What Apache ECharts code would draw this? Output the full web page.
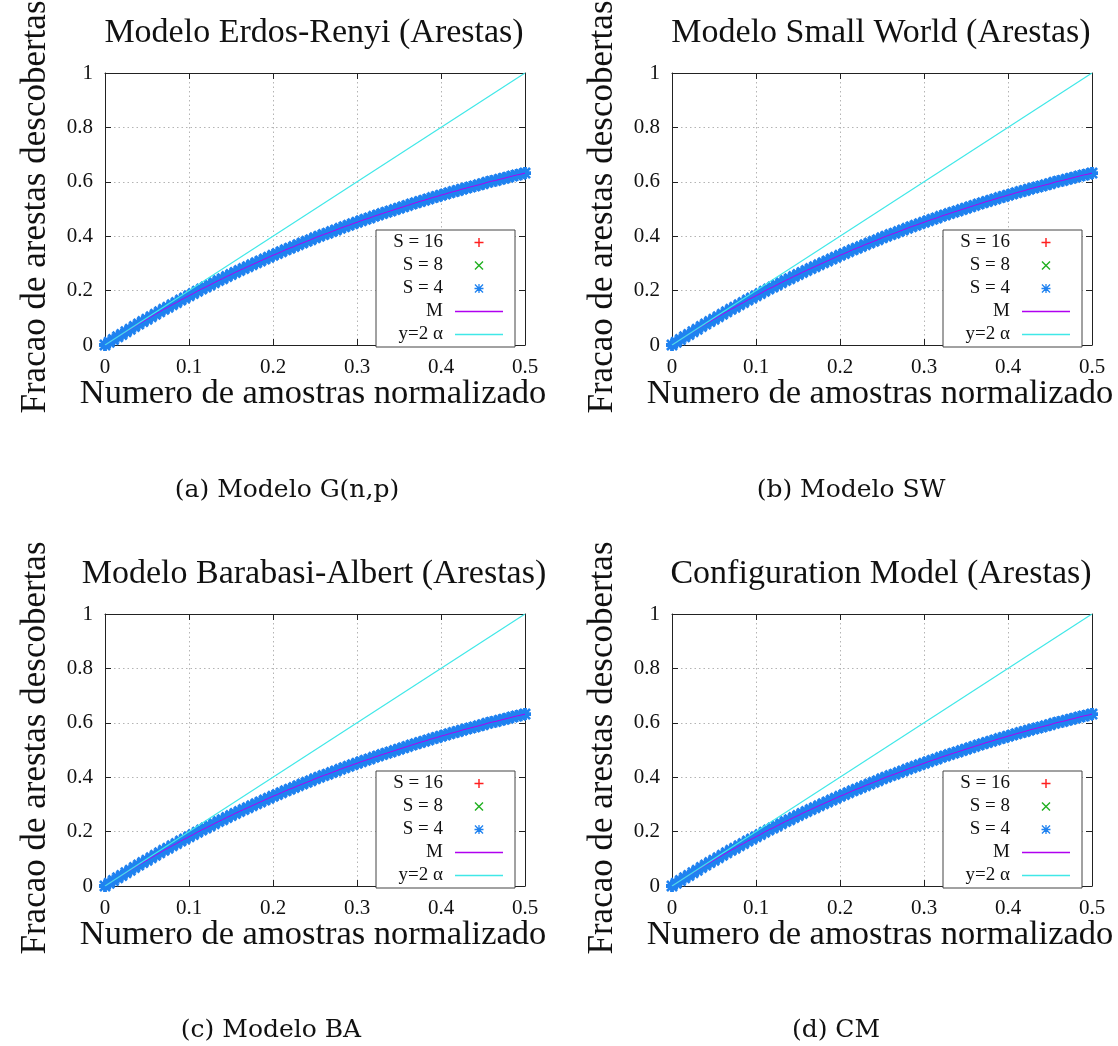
<!DOCTYPE html>
<html>
<head>
<meta charset="utf-8">
<script src="https://cdn.jsdelivr.net/npm/echarts@6/dist/echarts.min.js"></script>
<style>html,body{margin:0;padding:0;background:#fff}#main{width:1118px;height:1046px}</style>
</head>
<body>
<div id="main"></div>
<script>
// ---- data ----
const panelTitles = ['Modelo Erdos-Renyi (Arestas)', 'Modelo Small World (Arestas)', 'Modelo Barabasi-Albert (Arestas)', 'Configuration Model (Arestas)'];
const panelCaptions = ['(a) Modelo G(n,p)', '(b) Modelo SW', '(c) Modelo BA', '(d) CM'];
const seriesNames = ['S = 16', 'S = 8', 'S = 4', 'M', 'y=2 \u03b1'];
const xAxisTitle = 'Numero de amostras normalizado';
const yAxisTitle = 'Fracao de arestas descobertas';
const xTicks = [0, 0.1, 0.2, 0.3, 0.4, 0.5];
const yTicks = [0, 0.2, 0.4, 0.6, 0.8, 1];

// normalized number of samples (alpha)
const alpha = [0,0.005,0.01,0.015,0.02,0.025,0.03,0.035,0.04,0.045,0.05,0.055,0.06,0.065,0.07,0.075,0.08,0.085,0.09,0.095,
0.1,0.105,0.11,0.115,0.12,0.125,0.13,0.135,0.14,0.145,0.15,0.155,0.16,0.165,0.17,0.175,0.18,0.185,0.19,0.195,
0.2,0.205,0.21,0.215,0.22,0.225,0.23,0.235,0.24,0.245,0.25,0.255,0.26,0.265,0.27,0.275,0.28,0.285,0.29,0.295,
0.3,0.305,0.31,0.315,0.32,0.325,0.33,0.335,0.34,0.345,0.35,0.355,0.36,0.365,0.37,0.375,0.38,0.385,0.39,0.395,
0.4,0.405,0.41,0.415,0.42,0.425,0.43,0.435,0.44,0.445,0.45,0.455,0.46,0.465,0.47,0.475,0.48,0.485,0.49,0.495,0.5];
// fraction of discovered edges (all S series and M overlap in the picture)
const fracS16 = [0,0.010,0.020,0.030,0.039,0.049,0.058,0.068,0.077,0.086,0.095,0.104,0.113,0.122,0.131,0.139,0.148,0.156,0.165,0.173,
0.181,0.189,0.198,0.206,0.213,0.221,0.229,0.237,0.244,0.252,0.259,0.267,0.274,0.281,0.288,0.295,0.302,0.309,0.316,0.323,
0.330,0.336,0.343,0.350,0.356,0.362,0.369,0.375,0.381,0.387,0.394,0.400,0.406,0.411,0.417,0.423,0.429,0.435,0.440,0.446,
0.451,0.457,0.462,0.467,0.473,0.478,0.483,0.488,0.493,0.498,0.503,0.508,0.513,0.518,0.523,0.528,0.532,0.537,0.542,0.546,
0.551,0.555,0.560,0.564,0.568,0.573,0.577,0.581,0.585,0.589,0.593,0.598,0.602,0.605,0.609,0.613,0.617,0.621,0.625,0.628,0.632];
const fracS8 = fracS16;
const fracS4 = fracS16;
const fracM = fracS16;
// reference line y = 2 alpha
const refX = [0, 0.5];
const refY = [0, 1];

// ---- styling / layout ----
const FONT = '"Liberation Serif", "Times New Roman", serif';
const CAPFONT = '"DejaVu Serif", "Liberation Serif", serif';
const PLUS = 'path://M4.2,0H5.8V4.2H10V5.8H5.8V10H4.2V5.8H0V4.2H4.2Z';
const CROSS = 'path://M0,1.1L1.1,0L10,8.9L8.9,10ZM8.9,0L10,1.1L1.1,10L0,8.9Z';
const STAR = 'path://M4.3,0H5.7V4.3H10V5.7H5.7V10H4.3V5.7H0V4.3H4.3ZM0,1L1,0L10,9L9,10ZM9,0L10,1L1,10L0,9Z';
const STAR_BOLD = 'path://M3.4,0H6.6V3.4H10V6.6H6.6V10H3.4V6.6H0V3.4H3.4ZM0,1.6L1.6,0L10,8.4L8.4,10ZM8.4,0L10,1.6L1.6,10L0,8.4Z';
const LINEICON = 'path://M0,0H48V1.3H0Z';
const COLORS = ['#ff2020', '#20b020', '#1f82f0', '#b000f0', '#40e8e8'];

const layouts = [
  {left: 105, top: 73}, {left: 672, top: 73},
  {left: 105, top: 614}, {left: 672, top: 614}
];
const GW = 420, GH = 272;

const zip = (xs, ys) => xs.map((x, i) => [x, ys[i]]);

const grid = [], xAxis = [], yAxis = [], series = [], legend = [], graphic = [];
layouts.forEach((L, p) => {
  grid.push({left: L.left, top: L.top, width: GW, height: GH, containLabel: false});
  const tick = {show: true, inside: true, length: 6, lineStyle: {color: '#222'}};
  const axLine = {show: true, onZero: false, lineStyle: {color: '#222', width: 1}};
  const split = {show: true, lineStyle: {color: '#b4b4b4', type: [1.5, 3], width: 1}};
  const lbl = {color: '#111', fontFamily: FONT, fontSize: 21, margin: 12, formatter: v => String(+v.toFixed(2))};
  xAxis.push({type: 'value', gridIndex: p, min: xTicks[0], max: xTicks[xTicks.length - 1], interval: 0.1,
    position: 'bottom', axisLine: axLine, axisTick: tick, splitLine: split, axisLabel: lbl});
  xAxis.push({type: 'value', gridIndex: p, min: xTicks[0], max: xTicks[xTicks.length - 1], interval: 0.1,
    position: 'top', axisLine: axLine, axisTick: tick, splitLine: {show: false}, axisLabel: {show: false}});
  yAxis.push({type: 'value', gridIndex: p, min: yTicks[0], max: yTicks[yTicks.length - 1], interval: 0.2,
    position: 'left', axisLine: axLine, axisTick: tick, splitLine: split, axisLabel: lbl});
  yAxis.push({type: 'value', gridIndex: p, min: yTicks[0], max: yTicks[yTicks.length - 1], interval: 0.2,
    position: 'right', axisLine: axLine, axisTick: tick, splitLine: {show: false}, axisLabel: {show: false}});
  const xi = 2 * p, yi = 2 * p;
  const scat = (name, data, sym, color, size) => ({
    name, type: 'scatter', xAxisIndex: xi, yAxisIndex: yi, data: zip(alpha, data),
    symbol: sym, symbolSize: size, clip: false, itemStyle: {color, opacity: 1}, silent: true, z: 2
  });
  series.push(scat(seriesNames[0], fracS16, PLUS, COLORS[0], 8));
  series.push(scat(seriesNames[1], fracS8, CROSS, COLORS[1], 8));
  series.push(scat(seriesNames[2], fracS4, STAR_BOLD, COLORS[2], 12));
  series.push({name: seriesNames[3], type: 'line', xAxisIndex: xi, yAxisIndex: yi, data: zip(alpha, fracM),
    symbol: 'none', lineStyle: {color: COLORS[3], width: 1}, itemStyle: {color: COLORS[3]}, z: 3, silent: true});
  series.push({name: seriesNames[4], type: 'line', xAxisIndex: xi, yAxisIndex: yi, data: zip(refX, refY),
    symbol: 'none', lineStyle: {color: COLORS[4], width: 1.2}, itemStyle: {color: COLORS[4]}, z: 4, silent: true});

  legend.push({
    left: L.left + 271, top: L.top + 157, orient: 'vertical', align: 'right',
    itemWidth: 48, itemHeight: 9, itemGap: 4, padding: [3, 12, 3, 5],
    borderColor: '#444', borderWidth: 1, backgroundColor: '#fff', selectedMode: false,
    data: [
      {name: seriesNames[0], icon: PLUS},
      {name: seriesNames[1], icon: CROSS},
      {name: seriesNames[2], icon: STAR},
      {name: seriesNames[3], icon: LINEICON},
      {name: seriesNames[4], icon: LINEICON}
    ],
    formatter: n => '{t|' + n + '}',
    textStyle: {color: '#111', fontFamily: FONT, fontSize: 19,
      rich: {t: {width: 62, align: 'right', padding: [0, 7, 0, 0], fontFamily: FONT, fontSize: 19, lineHeight: 18, color: '#111'}}}
  });

  const cx = L.left + GW / 2;
  graphic.push({type: 'text', x: cx - 1, y: L.top - 40, style: {text: panelTitles[p], fontFamily: FONT, fontSize: 34, fill: '#111', align: 'center', verticalAlign: 'middle'}});
  graphic.push({type: 'text', x: cx - 2, y: L.top + GH + 49, style: {text: xAxisTitle, fontFamily: FONT, fontSize: 34.5, fill: '#111', align: 'center', verticalAlign: 'middle'}});
  graphic.push({type: 'text', x: L.left - 69, y: L.top + 134, rotation: Math.PI / 2, style: {text: yAxisTitle, fontFamily: FONT, fontSize: 35, fill: '#111', align: 'center', verticalAlign: 'middle'}});
});
const captionPos = [[287, 490], [851, 490], [271, 1030], [836, 1030]];
panelCaptions.forEach((c, i) => {
  graphic.push({type: 'text', x: captionPos[i][0], y: captionPos[i][1], style: {text: c, fontFamily: CAPFONT, fontSize: 25, fill: '#111', align: 'center', verticalAlign: 'middle'}});
});

const chart = echarts.init(document.getElementById('main'), null, {renderer: 'canvas'});
chart.setOption({
  animation: false,
  backgroundColor: '#fff',
  grid, xAxis, yAxis, series, legend, graphic
});
</script>
</body>
</html>
